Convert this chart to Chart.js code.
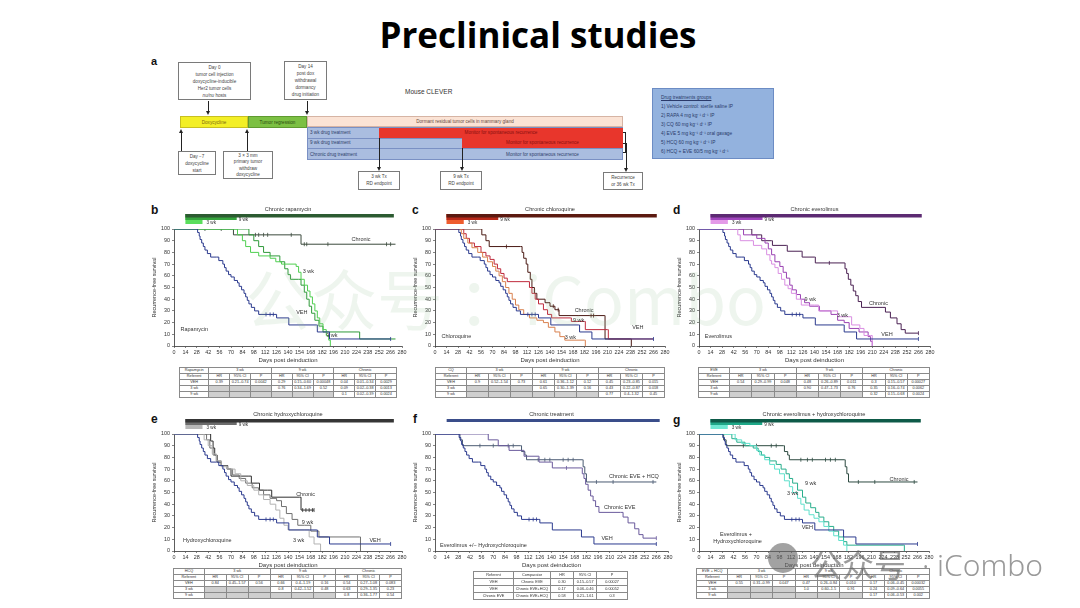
<!DOCTYPE html>
<html>
<head>
<meta charset="utf-8">
<script src="https://cdn.jsdelivr.net/npm/chart.js@4.4.1/dist/chart.umd.min.js"></script>
<style>
body{margin:0;background:#fff;font-family:"Liberation Sans",Arial,sans-serif}
#page{position:relative;width:1080px;height:608px;overflow:hidden;background:#fff}
#page div, #page canvas, #page table{position:absolute}
h1{position:absolute;left:0;top:10px;width:1076px;margin:0;text-align:center;font-family:"Open Sans",sans-serif;font-size:35px;line-height:50px;font-weight:bold;color:#000}
.lt{font-weight:bold;font-size:12px;color:#111;line-height:12px}
.box{border:0.8px solid #7a7a7a;background:#fff;font-size:4.6px;line-height:7px;text-align:center;color:#444;box-sizing:border-box;padding-top:1px}
.bar{font-size:4.6px;text-align:center;box-sizing:border-box;white-space:nowrap}
.tb{border-collapse:collapse;table-layout:fixed;font-size:3.8px;color:#333;background:#fff}
.tb td{border:0.6px solid #8a8a8a;height:5px;padding:0;line-height:5px;text-align:center;white-space:nowrap;overflow:hidden}
.tb td.g{background:#cfcfcf}
</style>
</head>
<body>
<div id="page">
<h1>Preclinical studies</h1>

<!-- panel a: study schematic -->
<div class="lt" style="left:151px;top:55px;font-size:11px">a</div>
<div class="box" style="left:178px;top:62px;width:73px;height:38px">Day 0<br>tumor cell injection<br>doxycycline-inducible<br>Her2 tumor cells<br><i>nu/nu</i> hosts</div>
<div class="box" style="left:284px;top:61px;width:43px;height:39px">Day 14<br>post dox<br>withdrawal<br>dormancy<br>drug initiation</div>
<div style="left:405px;top:88px;font-size:6.5px;color:#333">Mouse CLEVER</div>
<div class="bar" style="left:180px;top:116px;width:68px;height:12px;line-height:11px;background:#f3ef26;border:0.6px solid #c8c020;color:#7a6a10">Doxycycline</div>
<div class="bar" style="left:248px;top:116px;width:59px;height:12px;line-height:11px;background:#7cc043;border:0.6px solid #5f9a30;color:#2a4a10">Tumor regression</div>
<div class="bar" style="left:307px;top:116px;width:316px;height:11px;line-height:10px;background:#fbe3d5;border:0.6px solid #d6b4a4;color:#6a4a40">Dormant residual tumor cells in mammary gland</div>
<div style="left:307px;top:127px;width:316px;height:33px;background:#aabde0;border:0.6px solid #7a90c4;box-sizing:border-box"></div>
<div style="left:307px;top:137.5px;width:316px;height:0;border-top:0.6px solid #7a90c4"></div>
<div style="left:307px;top:148px;width:316px;height:0;border-top:0.6px solid #7a90c4"></div>
<div class="bar" style="left:379px;top:127.5px;width:244px;height:10px;line-height:10px;background:#e8362c;color:#8a1010">Monitor for spontaneous recurrence</div>
<div class="bar" style="left:462px;top:138px;width:161px;height:10px;line-height:10px;background:#e8362c;color:#8a1010">Monitor for spontaneous recurrence</div>
<div class="bar" style="left:310px;top:128px;height:10px;line-height:10px;color:#2f3f6a;text-align:left">3 wk drug treatment</div>
<div class="bar" style="left:310px;top:138px;height:10px;line-height:10px;color:#2f3f6a;text-align:left">9 wk drug treatment</div>
<div class="bar" style="left:310px;top:148.5px;height:11px;line-height:11px;color:#2f3f6a;text-align:left">Chronic drug treatment</div>
<div class="bar" style="left:462px;top:148.5px;width:161px;height:11px;line-height:11px;color:#2f3f6a">Monitor for spontaneous recurrence</div>
<div class="box" style="left:178px;top:151px;width:38px;height:24px">Day −7<br>doxycycline<br>start</div>
<div class="box" style="left:223px;top:151px;width:50px;height:28px;line-height:6.4px">3 × 3 mm<br>primary tumor<br>withdraw<br>doxycycline</div>
<div class="box" style="left:358px;top:171px;width:42px;height:19px">3 wk Tx<br>RD endpoint</div>
<div class="box" style="left:440px;top:171px;width:42px;height:19px">9 wk Tx<br>RD endpoint</div>
<div class="box" style="left:603px;top:172px;width:40px;height:18px">Recurrence<br>or 36 wk Tx</div>
<div style="left:623px;top:132px;width:3px;height:21px;border:0.8px solid #222;border-left:none;box-sizing:border-box"></div>
<div style="left:623px;top:142.5px;width:3px;height:0;border-top:0.8px solid #222"></div>
<div style="left:652px;top:88px;width:122px;height:71px;background:#93b2de;border:0.7px solid #6c8cc4;box-sizing:border-box;padding:4px 0 0 8px;font-size:4.8px;line-height:9px;color:#2a3a6a">
<u>Drug treatments groups</u><br>1) Vehicle control: sterile saline IP<br>2) RAPA 4 mg kg⁻¹ d⁻¹ IP<br>3) CQ 60 mg kg⁻¹ d⁻¹ IP<br>4) EVE 5 mg kg⁻¹ d⁻¹ oral gavage<br>5) HCQ 60 mg kg⁻¹ d⁻¹ IP<br>6) HCQ + EVE 60/5 mg kg⁻¹ d⁻¹</div>

<div class="lt" style="left:151px;top:204px">b</div>
<div class="lt" style="left:412px;top:204px">c</div>
<div class="lt" style="left:673px;top:204px">d</div>
<div class="lt" style="left:151px;top:413px">e</div>
<div class="lt" style="left:413px;top:413px">f</div>
<div class="lt" style="left:673px;top:414px">g</div>
</div>

<script>
// axis ticks
const dayTicks = [0, 14, 28, 42, 56, 70, 84, 98, 112, 126, 140, 154, 168, 182, 196, 210, 224, 238, 252, 266, 280]
const survTicks = [0, 10, 20, 30, 40, 50, 60, 70, 80, 90, 100]

// dosing schedule (days): all arms start at day 14
const schedStart = 14
const schedEnd = [35, 77, 270]
const schedNames = ['3 wk', '9 wk', 'Chronic']

// Kaplan-Meier curves as [day, % recurrence-free] steps
const vehCurve = [[0,100],[27,100],[29,97],[31,94],[32,91],[34,88],[36,85],[38,82],[41,79],[45,76],[52,76],[55,73],[60,70],[62,67],[64,64],[67,61],[70,59],[74,56],[78,54],[80,51],[83,48],[86,45],[88,42],[90,39],[92,36],[95,33],[99,30],[104,27],[124,27],[126,24],[140,24],[141,18],[175,18],[176,12],[190,12],[191,6],[266,6]]
const vehCensor = [113, 118, 122, 266]

const rapa3Curve = [[0,100],[76,100],[78,95],[84,90],[88,85],[94,80],[104,77],[118,75],[125,72],[132,70],[150,68],[153,63],[156,57],[160,52],[164,47],[167,42],[170,36],[173,30],[176,24],[179,19],[183,14],[187,9],[190,5],[192,0]]
const rapa9Curve = [[0,100],[90,100],[92,95],[98,90],[104,85],[110,80],[118,77],[130,72],[136,66],[140,61],[143,57],[153,57],[156,52],[160,46],[163,40],[166,34],[169,28],[173,22],[178,17],[183,12],[226,12],[228,6],[272,6]]
const rapaChronicCurve = [[0,100],[72,100],[73,95],[155,95],[156,87],[272,87]]
const rapaChronicCensor = [38, 58, 100, 104, 110, 115, 144, 160, 163, 189, 261, 266]

const cq3Curve = [[0,100],[30,100],[32,96],[35,92],[40,88],[45,84],[52,80],[58,76],[64,72],[70,68],[74,64],[78,60],[82,55],[86,50],[90,45],[94,40],[98,35],[102,31],[108,27],[115,24],[124,22],[132,20],[138,16],[146,12],[152,8],[158,5],[182,5],[183,0]]
const cq9Curve = [[0,100],[33,100],[35,96],[38,92],[42,88],[48,85],[56,80],[62,77],[67,74],[72,70],[76,66],[80,62],[84,58],[88,55],[112,55],[115,50],[118,45],[122,40],[126,36],[132,31],[137,27],[142,24],[165,24],[166,21],[182,21],[183,14],[210,14],[211,6],[266,6]]
const cqChronicCurve = [[0,100],[55,100],[57,95],[62,90],[66,85],[104,85],[106,80],[108,75],[111,70],[113,63],[116,57],[118,50],[121,45],[124,40],[134,37],[140,34],[146,31],[151,26],[206,26],[207,6],[238,6],[239,0]]
const cqChronicCensor = [87, 144, 150, 190, 193]

const eve3Curve = [[0,100],[45,100],[47,95],[50,90],[62,90],[66,86],[76,83],[82,78],[86,73],[88,70],[92,67],[96,62],[100,57],[104,52],[108,49],[112,45],[118,40],[124,35],[140,35],[145,30],[162,30],[168,25],[180,25],[185,18],[195,15],[200,9],[208,9],[210,0]]
const eve9Curve = [[0,100],[52,100],[54,95],[68,95],[70,92],[80,88],[84,83],[88,78],[92,72],[98,68],[102,63],[106,58],[110,52],[113,48],[118,44],[123,40],[128,37],[134,34],[146,30],[160,27],[168,22],[176,20],[182,15],[194,12],[205,8],[208,4],[210,0]]
const eveChronicCurve = [[0,100],[62,100],[64,95],[75,95],[76,90],[88,90],[89,86],[106,86],[107,81],[124,81],[125,76],[140,76],[141,71],[176,71],[177,66],[179,62],[181,57],[184,52],[187,47],[190,43],[193,38],[197,33],[223,33],[226,29],[232,24],[240,19],[245,14],[250,11],[266,11]]
const eveChronicCensor = [158, 266]

const hcq3Curve = [[0,100],[35,100],[37,95],[42,90],[47,83],[52,77],[58,72],[66,70],[75,66],[82,60],[90,56],[98,52],[104,48],[110,44],[118,40],[125,35],[130,28],[135,22],[140,18],[160,18],[166,12],[172,6],[180,0]]
const hcq9Curve = [[0,100],[38,100],[40,95],[44,88],[48,82],[52,77],[58,73],[65,70],[72,65],[80,62],[88,58],[96,54],[104,52],[110,48],[118,45],[126,43],[132,38],[138,32],[145,27],[152,22],[160,22],[168,17],[178,12],[228,12],[229,0]]
const hcqChronicCurve = [[0,100],[43,100],[45,94],[48,88],[50,82],[53,76],[58,73],[66,70],[70,64],[92,64],[95,58],[103,58],[105,52],[115,52],[120,46],[154,46],[156,35],[172,35]]
const hcqChronicCensor = [158, 162, 166, 170, 172]

const combo3Curve = [[0,100],[42,100],[44,95],[52,92],[62,90],[70,86],[74,82],[80,78],[86,74],[92,70],[98,66],[104,60],[110,55],[114,50],[120,45],[124,40],[128,35],[134,31],[140,28],[146,25],[152,21],[158,17],[164,13],[170,9],[176,5],[180,0]]
const combo9Curve = [[0,100],[38,100],[40,96],[46,93],[56,90],[66,88],[72,85],[76,82],[80,80],[86,77],[94,74],[100,70],[106,66],[110,62],[114,58],[120,52],[126,46],[130,41],[136,37],[142,33],[146,29],[152,25],[158,21],[164,17],[170,12],[176,8],[180,5],[249,5],[250,0]]
const comboChronicCurve = [[0,100],[29,100],[30,95],[33,90],[103,90],[104,85],[108,82],[110,78],[177,78],[178,72],[180,66],[182,59],[266,59]]
const comboChronicCensor = [54, 70, 88, 94, 124, 132, 138, 154, 160, 166, 194, 214, 262]

// hazard ratio tables
const tblGroups = ['3 wk', '9 wk', 'Chronic']
const tblHead = ['HR', '95% CI', 'P']
const rapaRows = [
  ['VEH', '0.39', '0.21–0.74', '0.0042', '0.29', '0.15–0.60', '0.00048', '0.04', '0.01–0.34', '0.0029'],
  ['3 wk', '', '', '', '0.76', '0.34–1.69', '0.52', '0.09', '0.02–0.38', '0.0013'],
  ['9 wk', '', '', '', '', '', '', '0.1', '0.02–0.39', '0.0024']
]
const cqRows = [
  ['VEH', '0.9', '0.52–1.54', '0.73', '0.61', '0.36–1.12', '0.12', '0.45', '0.23–0.85', '0.015'],
  ['3 wk', '', '', '', '0.65', '0.30–1.39', '0.16', '0.43', '0.22–0.87', '0.018'],
  ['9 wk', '', '', '', '', '', '', '0.77', '0.4–1.32', '0.45']
]
const eveRows = [
  ['VEH', '0.54', '0.29–0.99', '0.048', '0.48', '0.26–0.89', '0.011', '0.3', '0.15–0.57', '0.00027'],
  ['3 wk', '', '', '', '0.90', '0.47–1.73', '0.76', '0.35', '0.16–0.74', '0.0062'],
  ['9 wk', '', '', '', '', '', '', '0.32', '0.15–0.68', '0.0024']
]
const hcqRows = [
  ['VEH', '0.84', '0.45–1.57', '0.56', '0.66', '0.4–1.19', '0.16', '0.54', '0.27–1.08', '0.083'],
  ['3 wk', '', '', '', '0.8', '0.42–1.52', '0.48', '0.63', '0.29–1.35', '0.23'],
  ['9 wk', '', '', '', '', '', '', '0.8', '0.36–1.77', '0.54']
]
const comboRows = [
  ['VEH', '0.55', '0.31–0.99', '0.047', '0.47', '0.26–0.84', '0.010', '0.17', '0.06–0.45', '0.00032'],
  ['3 wk', '', '', '', '1.0', '0.60–1.5', '0.91', '0.24', '0.09–0.64', '0.0055'],
  ['9 wk', '', '', '', '', '', '', '0.17', '0.06–0.53', '0.002']
]
const chronicHead = ['Referent', 'Comparator', 'HR', '95% CI', 'P']
const chronicRows = [
  ['VEH', 'Chronic EVE', '0.30', '0.15–0.57', '0.00027'],
  ['VEH', 'Chronic EVE+HCQ', '0.17', '0.06–0.46', '0.00052'],
  ['Chronic EVE', 'Chronic EVE+HCQ', '0.58', '0.21–1.61', '0.3']
]

const page = document.getElementById('page')
const NAVY = '#2b3a8e'
Chart.defaults.font.family = '"Liberation Sans", Arial, sans-serif'
Chart.defaults.color = '#333'

// schematic arrows: x, from y, to y (head at the "to" end)
const schemArrows = [[208, 101, 115], [307, 101, 115], [181, 151, 129], [247, 151, 129], [379, 138, 171], [462, 148, 171], [626, 143, 172]]
schemArrows.forEach(([x, y1, y2]) => {
  const up = y2 < y1
  const ln = document.createElement('div')
  ln.style.cssText = `left:${x - 0.5}px;top:${Math.min(y1, y2) + (up ? 3 : 0)}px;width:1px;height:${Math.abs(y2 - y1) - 3}px;background:#222`
  const hd = document.createElement('div')
  hd.style.cssText = `left:${x - 2.5}px;top:${up ? y2 : y2 - 4}px;width:0;height:0;border-left:2.5px solid transparent;border-right:2.5px solid transparent;${up ? 'border-bottom' : 'border-top'}:4px solid #222`
  page.appendChild(ln)
  page.appendChild(hd)
})

function survAt(curve, d) {
  let s = curve[0][1]
  for (const [x, y] of curve) if (x <= d) s = y
  return s
}
function stepSet(curve, color) {
  return {data: curve.map(([x, y]) => ({x, y})), borderColor: color, borderWidth: 1, pointRadius: 0, stepped: true, fill: false}
}
function censorSet(curve, days, color) {
  return {data: days.map(d => ({x: d, y: survAt(curve, d)})), showLine: false, pointStyle: 'line', rotation: 90,
    pointRadius: 2, borderColor: color, borderWidth: 0.8}
}

// title, dosing bars and curve labels drawn against the chart's own x/y scales
const panelDecor = {
  id: 'panelDecor',
  afterDraw(chart, args, o) {
    const {ctx, chartArea: a, scales: {x, y}} = chart
    ctx.save()
    const top = a.top - 15
    const x0 = x.getPixelForValue(schedStart)
    o.bars.slice().sort((p, q) => q.h - p.h).forEach(b => {
      ctx.fillStyle = b.color
      ctx.fillRect(x0, top, x.getPixelForValue(b.to) - x0, b.h)
    })
    ctx.font = '4.6px "Liberation Sans", Arial'
    ctx.textBaseline = 'middle'
    ctx.textAlign = 'left'
    ctx.fillStyle = '#333'
    o.bars.forEach(b => {
      if (b.label) ctx.fillText(b.label, x.getPixelForValue(b.to) + b.dx, top + b.dy)
    })
    ctx.font = '5.6px "Liberation Sans", Arial'
    ctx.textAlign = 'center'
    ctx.fillText(o.title, x.getPixelForValue(140), a.top - 20)
    ctx.font = '5.5px "Liberation Sans", Arial'
    o.labels.forEach(l => {
      ctx.textAlign = l.align || 'left'
      ctx.fillText(l.text, x.getPixelForValue(l.x), y.getPixelForValue(l.y))
    })
    ctx.restore()
  }
}

function kmPanel(p) {
  const cv = document.createElement('canvas')
  const [L, T, R, B] = p.plot
  const W = R - L + 44, H = B - T + 51
  cv.width = W
  cv.height = H
  cv.style.cssText = `left:${L - 34}px;top:${T - 29}px;width:${W}px;height:${H}px`
  page.appendChild(cv)
  const axisGrid = {display: true, drawOnChartArea: false, drawTicks: true, tickLength: 2, color: '#333', lineWidth: 0.6}
  new Chart(cv, {
    type: 'line',
    data: {datasets: p.datasets},
    options: {
      responsive: false,
      animation: false,
      events: [],
      layout: {padding: {top: 29, right: 10, left: 0, bottom: 0}},
      scales: {
        x: {
          type: 'linear', min: 0, max: 280,
          afterBuildTicks: s => { s.ticks = dayTicks.map(v => ({value: v})) },
          afterFit: s => { s.height = 22 },
          ticks: {font: {size: 5.4}, padding: 1, maxRotation: 0, autoSkip: false},
          grid: axisGrid,
          border: {display: true, color: '#333', width: 0.8},
          title: {display: true, text: 'Days post deinduction', font: {size: 6}, padding: {top: 0, bottom: 4}}
        },
        y: {
          min: 0, max: 100,
          afterBuildTicks: s => { s.ticks = survTicks.map(v => ({value: v})) },
          afterFit: s => { s.width = 34 },
          ticks: {font: {size: 5.4}, padding: 2},
          grid: axisGrid,
          border: {display: true, color: '#333', width: 0.8},
          title: {display: true, text: 'Recurrence-free survival', font: {size: 5.5}, padding: {top: 11, bottom: 0}}
        }
      },
      plugins: {
        legend: {display: false},
        tooltip: {enabled: false},
        panelDecor: {title: p.title, bars: p.bars, labels: p.labels}
      }
    },
    plugins: [panelDecor]
  })
}

function armBars(colors) {
  return [
    {to: schedEnd[0], color: colors[0], h: 10, label: schedNames[0], dx: 4, dy: 8.5},
    {to: schedEnd[1], color: colors[1], h: 6, label: schedNames[1], dx: 2, dy: 6},
    {to: schedEnd[2], color: colors[2], h: 3.5}
  ]
}
function armSets(c3, c9, cChr, chrCensor, cols) {
  return [
    stepSet(vehCurve, NAVY), censorSet(vehCurve, vehCensor, NAVY),
    stepSet(c3, cols[0]), stepSet(c9, cols[1]),
    stepSet(cChr, cols[2]), censorSet(cChr, chrCensor, cols[2])
  ]
}

const rapaCols = ['#4fcf50', '#2f9a3a', '#3a4a3c']
kmPanel({plot: [174, 229, 402, 346], title: 'Chronic rapamycin',
  bars: armBars(['#5ade5c', '#36a43e', '#2c5b31']),
  datasets: armSets(rapa3Curve, rapa9Curve, rapaChronicCurve, rapaChronicCensor, rapaCols),
  labels: [{text: 'Rapamycin', x: 8, y: 14}, {text: 'VEH', x: 150, y: 29}, {text: '3 wk', x: 158, y: 64},
    {text: '9 wk', x: 187, y: 9}, {text: 'Chronic', x: 218, y: 91}]})

const cqCols = ['#d9804e', '#bf2a3c', '#4a1a14']
kmPanel({plot: [435, 229, 665, 346], title: 'Chronic chloroquine',
  bars: armBars(['#ee5c2e', '#b82a1a', '#5c1a10']),
  datasets: armSets(cq3Curve, cq9Curve, cqChronicCurve, cqChronicCensor, cqCols),
  labels: [{text: 'Chloroquine', x: 8, y: 8}, {text: 'Chronic', x: 170, y: 30}, {text: '9 wk', x: 168, y: 22},
    {text: '3 wk', x: 158, y: 7.5}, {text: 'VEH', x: 240, y: 16}]})

const eveCols = ['#d98ee2', '#9a42b2', '#4a2052']
kmPanel({plot: [699, 229, 930, 346], title: 'Chronic everolimus',
  bars: armBars(['#e49ae8', '#a045bd', '#5c2a72']),
  datasets: armSets(eve3Curve, eve9Curve, eveChronicCurve, eveChronicCensor, eveCols),
  labels: [{text: 'Everolimus', x: 7, y: 8}, {text: '9 wk', x: 128, y: 40}, {text: '3 wk', x: 167, y: 26},
    {text: 'Chronic', x: 206, y: 36}, {text: 'VEH', x: 221, y: 9.5}]})

const hcqCols = ['#b2b2b2', '#707070', '#2e2e2e']
kmPanel({plot: [174, 434, 402, 551], title: 'Chronic hydroxychloroquine',
  bars: armBars(['#b8b8b8', '#6c6c6c', '#353535']),
  datasets: armSets(hcq3Curve, hcq9Curve, hcqChronicCurve, hcqChronicCensor, hcqCols),
  labels: [{text: 'Hydroxychloroquine', x: 11, y: 8.6}, {text: 'Chronic', x: 150, y: 48.6}, {text: '9 wk', x: 157, y: 24},
    {text: '3 wk', x: 146, y: 8.6}, {text: 'VEH', x: 240, y: 8.6}]})

kmPanel({plot: [435, 434, 668, 551], title: 'Chronic treatment',
  bars: [{to: schedEnd[2], color: '#3a4d8a', h: 3}],
  datasets: [
    stepSet(vehCurve, NAVY), censorSet(vehCurve, vehCensor, NAVY),
    stepSet(eveChronicCurve, '#6a5a9c'), censorSet(eveChronicCurve, eveChronicCensor, '#6a5a9c'),
    stepSet(comboChronicCurve, '#4a5a72'), censorSet(comboChronicCurve, comboChronicCensor, '#4a5a72')
  ],
  labels: [{text: 'Everolimus +/− Hydroxychloroquine', x: 6, y: 5}, {text: 'Chronic EVE + HCQ', x: 209, y: 64},
    {text: 'Chronic EVE', x: 203, y: 37.6}, {text: 'VEH', x: 200, y: 10.5}]})

const comboCols = ['#5ee0cc', '#27ae8c', '#2d4a40']
kmPanel({plot: [699, 434, 929, 551], title: 'Chronic everolimus + hydroxychloroquine',
  bars: armBars(['#6fe8d2', '#1fa888', '#0e5a48']),
  datasets: armSets(combo3Curve, combo9Curve, comboChronicCurve, comboChronicCensor, comboCols),
  labels: [{text: 'Everolimus +', x: 45, y: 13.7, align: 'center'}, {text: 'Hydroxychloroquine', x: 47, y: 8.5, align: 'center'},
    {text: 'Chronic', x: 232, y: 61.3}, {text: '9 wk', x: 129, y: 57.7}, {text: '3 wk', x: 107, y: 49},
    {text: 'VEH', x: 125, y: 20}]})

// hazard ratio tables under each plot
function groupTable(left, top, width, name, rows) {
  const t = document.createElement('table')
  t.className = 'tb'
  t.style.cssText = `left:${left}px;top:${top}px;width:${width}px`
  let h = '<colgroup><col style="width:13.5%">' + '<col style="width:9.6%">'.repeat(9) + '</colgroup>'
  h += `<tr><td>${name}</td>` + tblGroups.map(g => `<td colspan="3">${g}</td>`).join('') + '</tr>'
  h += '<tr><td>Referent</td>' + tblGroups.map(() => tblHead.map(c => `<td>${c}</td>`).join('')).join('') + '</tr>'
  rows.forEach(r => {
    h += '<tr>' + r.map((c, i) => i && c === '' ? '<td class="g"></td>' : `<td>${c}</td>`).join('') + '</tr>'
  })
  t.innerHTML = h
  page.appendChild(t)
}
groupTable(179, 367, 218, 'Rapamycin', rapaRows)
groupTable(435, 367, 230, 'CQ', cqRows)
groupTable(698, 367, 232, 'EVE', eveRows)
groupTable(173, 568, 229, 'HCQ', hcqRows)
groupTable(696, 568, 234, 'EVE + HCQ', comboRows)

const ft = document.createElement('table')
ft.className = 'tb'
ft.style.cssText = 'left:473px;top:571px;width:155px'
ft.innerHTML = '<colgroup><col style="width:26%"><col style="width:24%"><col style="width:15%"><col style="width:15%"><col style="width:20%"></colgroup>' +
  '<tr>' + chronicHead.map(c => `<td style="height:6px">${c}</td>`).join('') + '</tr>' +
  chronicRows.map(r => '<tr>' + r.map(c => `<td style="height:6px">${c}</td>`).join('') + '</tr>').join('')
page.appendChild(ft)

// source watermarks
const wm = document.createElement('div')
wm.style.cssText = 'left:245px;top:248px;font-size:66px;font-family:"Noto Sans CJK SC";color:rgba(150,190,150,0.16);white-space:nowrap;pointer-events:none'
wm.textContent = '公众号 ：iCombo'
page.appendChild(wm)
const logo = document.createElement('div')
logo.style.cssText = 'left:768px;top:543px;width:30px;height:30px;border-radius:50%;background:rgba(100,100,100,0.6)'
page.appendChild(logo)
const wm2 = document.createElement('div')
wm2.style.cssText = 'left:810px;top:545px;font-size:32px;line-height:36px;font-family:"Noto Sans CJK SC";color:rgba(95,95,95,0.62);white-space:nowrap'
wm2.textContent = '公众号'
page.appendChild(wm2)
const wm3 = document.createElement('div')
wm3.style.cssText = 'left:922px;top:547px;font-size:30px;line-height:36px;font-family:"Noto Sans";font-weight:300;color:#9a9a9a;white-space:nowrap'
wm3.textContent = '· iCombo'
page.appendChild(wm3)
</script>
</body>
</html>
